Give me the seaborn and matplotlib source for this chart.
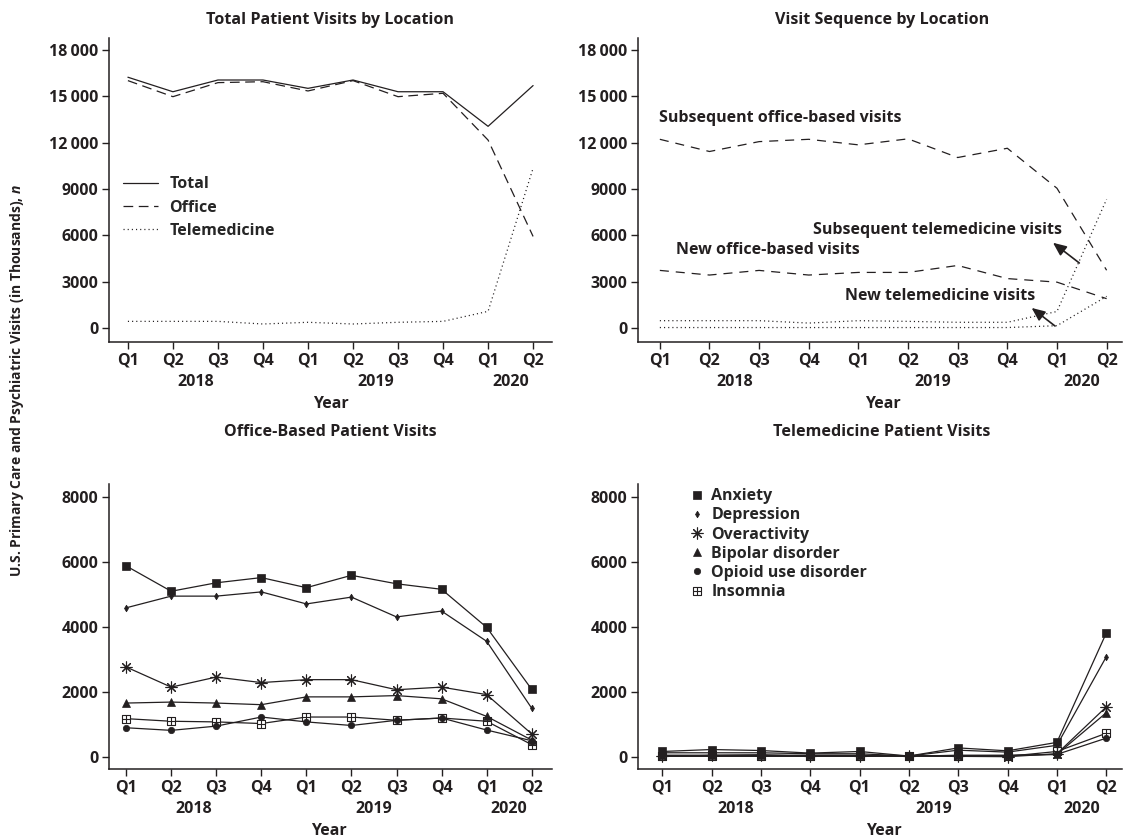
import numpy as np
import pandas as pd
import matplotlib
matplotlib.use('Agg')
import matplotlib.pyplot as plt
import seaborn as sns
from matplotlib.path import Path
from matplotlib.lines import Line2D

# data (thousands of visits)
quarters = ['Q1', 'Q2', 'Q3', 'Q4', 'Q1', 'Q2', 'Q3', 'Q4', 'Q1', 'Q2']
years = ['2018', '2019', '2020']
year_pos = [1.5, 5.5, 8.5]

total = [16240, 15300, 16060, 16060, 15520, 16060, 15300, 15300, 13060, 15700]
office = [16020, 14980, 15890, 15950, 15350, 16020, 14980, 15200, 12170, 5930]
tele = [430, 430, 430, 260, 370, 260, 370, 430, 1080, 10350]

sub_office = [12220, 11430, 12070, 12220, 11860, 12250, 11040, 11640, 9050, 3740]
new_office = [3730, 3430, 3730, 3430, 3600, 3600, 4050, 3200, 2970, 1900]
sub_tele = [475, 475, 475, 320, 475, 430, 370, 370, 1070, 8340]
new_tele = [30, 30, 30, 30, 30, 30, 30, 30, 150, 2050]

conditions = ['Anxiety', 'Depression', 'Overactivity', 'Bipolar disorder',
              'Opioid use disorder', 'Insomnia']
anx_off = [5880, 5100, 5360, 5520, 5210, 5590, 5330, 5160, 3990, 2080]
dep_off = [4590, 4950, 4950, 5080, 4710, 4920, 4310, 4490, 3560, 1500]
ovr_off = [2770, 2150, 2460, 2290, 2380, 2380, 2070, 2150, 1920, 710]
bip_off = [1660, 1690, 1660, 1610, 1850, 1850, 1890, 1790, 1250, 520]
opi_off = [900, 820, 950, 1230, 1080, 970, 1130, 1200, 830, 500]
ins_off = [1180, 1100, 1080, 1030, 1230, 1230, 1130, 1200, 1100, 380]

anx_tel = [170, 230, 200, 120, 170, 30, 280, 190, 450, 3810]
dep_tel = [130, 130, 130, 100, 100, 30, 210, 150, 360, 3080]
ovr_tel = [20, 50, 70, 20, 20, 30, 20, 10, 100, 1540]
bip_tel = [50, 50, 50, 50, 50, 30, 50, 50, 80, 1360]
opi_tel = [50, 50, 50, 50, 50, 30, 50, 50, 80, 580]
ins_tel = [20, 20, 20, 20, 20, 30, 20, 20, 170, 730]

sns.set_style('ticks')
plt.rcParams['font.family'] = ['Open Sans', 'DejaVu Sans']
plt.rcParams['font.weight'] = 'bold'
plt.rcParams['mathtext.fontset'] = 'custom'
plt.rcParams['mathtext.it'] = 'Open Sans:italic:bold'
plt.rcParams['mathtext.rm'] = 'Open Sans:bold'
plt.rcParams['lines.scale_dashes'] = False

INK = '#231f20'
FS = 11.5
W, H = 1125, 839

fig = plt.figure(figsize=(W / 100, H / 100), dpi=100)


def make_ax(l, r, t, b):
    return fig.add_axes([l / W, 1 - b / H, (r - l) / W, (b - t) / H])


# pixel boxes
ax1 = make_ax(109, 552, 38, 342)
ax2 = make_ax(638, 1122, 38, 342)
ax3 = make_ax(109, 552, 484, 769)
ax4 = make_ax(638, 1122, 484, 769)

x = np.arange(len(quarters))

top_df = pd.DataFrame({'x': x, 'Total': total, 'Office': office, 'Telemedicine': tele})
seq_df = pd.DataFrame({'x': x, 'sub_office': sub_office, 'new_office': new_office,
                       'sub_tele': sub_tele, 'new_tele': new_tele})
off_df = pd.DataFrame(dict(zip(conditions, [anx_off, dep_off, ovr_off, bip_off, opi_off, ins_off])))
off_df['x'] = x
tel_df = pd.DataFrame(dict(zip(conditions, [anx_tel, dep_tel, ovr_tel, bip_tel, opi_tel, ins_tel])))
tel_df['x'] = x

dash1 = (0, (7, 4))
dash2 = (0, (6.5, 5))
dots = (0, (0.8, 2.2))

# panel 1
for col, ls in [('Total', '-'), ('Office', dash1), ('Telemedicine', dots)]:
    sns.lineplot(data=top_df, x='x', y=col, ax=ax1, color=INK, lw=0.9, linestyle=ls, sort=False)
h1 = [Line2D([], [], color=INK, lw=0.9, ls='-'),
      Line2D([], [], color=INK, lw=0.9, ls=dash1),
      Line2D([], [], color=INK, lw=0.9, ls=dots)]
ax1.legend(h1, ['Total', 'Office', 'Telemedicine'], loc='upper left',
           bbox_to_anchor=(0.032, 0.545), frameon=False, fontsize=FS,
           handlelength=2.2, handletextpad=0.7, labelspacing=0.45,
           borderpad=0, borderaxespad=0)

# panel 2
for col, ls in [('sub_office', dash2), ('new_office', dash2), ('sub_tele', dots), ('new_tele', dots)]:
    sns.lineplot(data=seq_df, x='x', y=col, ax=ax2, color=INK, lw=0.9, linestyle=ls, sort=False)
ax2.text(-0.02, 13600, 'Subsequent office-based visits', fontsize=FS, color=INK, va='center')
ax2.text(0.32, 5050, 'New office-based visits', fontsize=FS, color=INK, va='center')
arr = dict(arrowstyle='-|>,head_length=0.8,head_width=0.35', color=INK, lw=1.2,
           shrinkA=0, shrinkB=0)
ax2.text(3.08, 6345, 'Subsequent telemedicine visits', fontsize=FS, color=INK, va='center')
ax2.annotate('', xy=(7.92, 5520), xytext=(8.45, 4210), arrowprops=arr)
ax2.text(3.73, 2070, 'New telemedicine visits', fontsize=FS, color=INK, va='center')
ax2.annotate('', xy=(7.49, 1300), xytext=(7.96, 130), arrowprops=arr)

# square with a cross for insomnia
box_cross = Path([(-1, -1), (1, -1), (1, 1), (-1, 1), (-1, -1),
                  (0, -1), (0, 1), (-1, 0), (1, 0)],
                 [Path.MOVETO, Path.LINETO, Path.LINETO, Path.LINETO, Path.CLOSEPOLY,
                  Path.MOVETO, Path.LINETO, Path.MOVETO, Path.LINETO])
mk = {
    'Anxiety': dict(marker='s', ms=6, mfc=INK, mec=INK, mew=0.5),
    'Depression': dict(marker='d', ms=3.4, mfc=INK, mec=INK, mew=0.5),
    'Overactivity': dict(marker=(8, 2, 0), ms=8.5, mfc=INK, mec=INK, mew=0.8),
    'Bipolar disorder': dict(marker='^', ms=5.5, mfc=INK, mec=INK, mew=0.5),
    'Opioid use disorder': dict(marker='o', ms=4.6, mfc=INK, mec=INK, mew=0.5),
    'Insomnia': dict(marker=box_cross, ms=6, mfc='white', mec=INK, mew=0.8),
}

for ax, df in [(ax3, off_df), (ax4, tel_df)]:
    for c in conditions[::-1]:
        sns.lineplot(data=df, x='x', y=c, ax=ax, color=INK, lw=0.9, sort=False, **mk[c])

h4 = [Line2D([], [], ls='none', color=INK, **mk[c]) for c in conditions]
h4[0].set_markersize(5.5)
ax4.legend(h4, conditions, loc='upper left', bbox_to_anchor=(0.105, 0.985),
           frameon=False, fontsize=FS, handlelength=1.0, handletextpad=0.4,
           labelspacing=0.2, borderpad=0, borderaxespad=0)

# axes styling
top_ticks = [0, 3000, 6000, 9000, 12000, 15000, 18000]
top_labels = ['0', '3000', '6000', '9000', '12\u2009000', '15\u2009000', '18\u2009000']
bot_ticks = [0, 2000, 4000, 6000, 8000]
bot_labels = ['0', '2000', '4000', '6000', '8000']

setup = [
    (ax1, (-0.42, 9.42), (-906, 18780), top_ticks, top_labels, 304),
    (ax2, (-0.44, 9.31), (-906, 18780), top_ticks, top_labels, 304),
    (ax3, (-0.38, 9.45), (-369, 8400), bot_ticks, bot_labels, 285),
    (ax4, (-0.49, 9.32), (-369, 8400), bot_ticks, bot_labels, 285),
]
for ax, xl, yl, yt, ytl, hpx in setup:
    ax.set_xlim(*xl)
    ax.set_ylim(*yl)
    ax.set_xticks(x)
    ax.set_xticklabels(quarters)
    ax.set_yticks(yt)
    ax.set_yticklabels(ytl)
    ax.set_xlabel('')
    ax.set_ylabel('')
    ax.tick_params(direction='out', length=5, width=1, color=INK, labelcolor=INK,
                   labelsize=FS, pad=2.5)
    for s in ['top', 'right']:
        ax.spines[s].set_visible(False)
    for s in ['left', 'bottom']:
        ax.spines[s].set_color(INK)
        ax.spines[s].set_linewidth(1.1)
    tr = ax.get_xaxis_transform()
    for yr, xp in zip(years, year_pos):
        ax.text(xp, -40 / hpx, yr, transform=tr, ha='center', va='center',
                fontsize=FS, color=INK)
    ax.text((len(quarters) - 1) / 2, -62 / hpx, 'Year',
            transform=tr, ha='center', va='center', fontsize=FS, color=INK)

titles = [('Total Patient Visits by Location', 330, 20),
          ('Visit Sequence by Location', 882, 20),
          ('Office-Based Patient Visits', 330, 432),
          ('Telemedicine Patient Visits', 882, 432)]
for t, px, py in titles:
    fig.text(px / W, 1 - py / H, t, ha='center', va='center', fontsize=11.6, color=INK)

fig.text(17 / W, 1 - 380 / H, 'U.S. Primary Care and Psychiatric Visits (in Thousands), $n$',
         rotation=90, ha='center', va='center', fontsize=10, color=INK)

fig.savefig('out.png', dpi=100)
